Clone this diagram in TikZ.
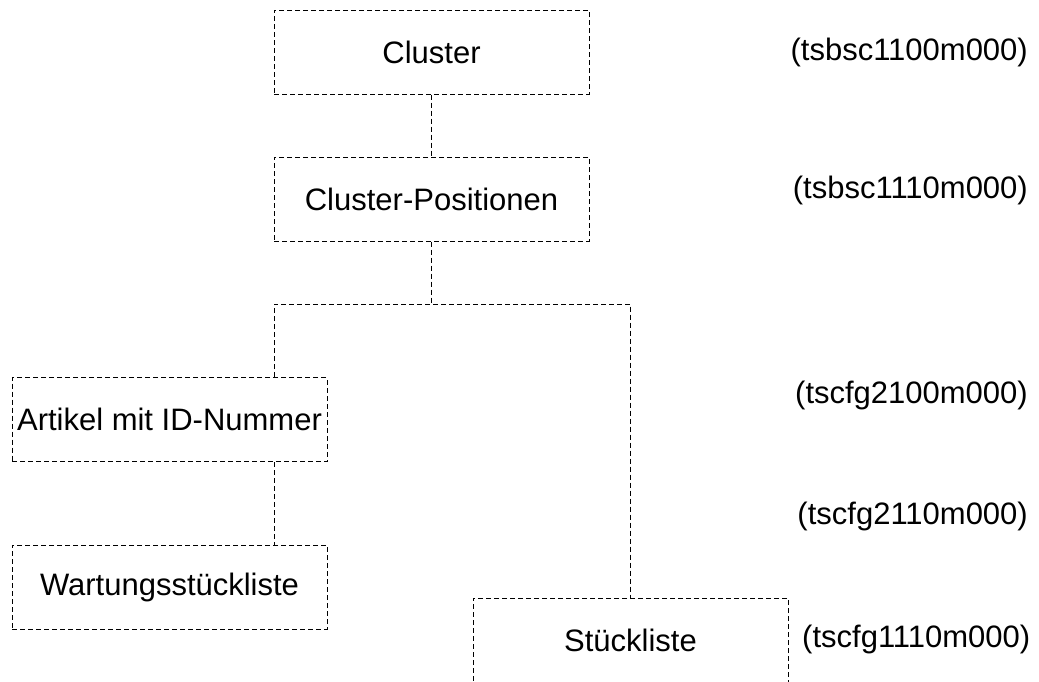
\documentclass[tikz,border=0pt]{standalone}
\usepackage{fontspec}
\setmainfont{Liberation Sans}
\usetikzlibrary{positioning}

\tikzset{
  box/.style={draw, dash pattern=on 5pt off 3pt, line width=1pt, minimum width=315pt, minimum height=84pt, inner sep=0pt},
  link/.style={draw, dash pattern=on 5pt off 3pt, line width=1pt},
  tab/.style={anchor=east, inner sep=0pt}
}

\begin{document}
\begin{tikzpicture}[x=1pt, y=-1pt, font=\fontsize{31}{37}\selectfont]

  \clip (0,0) rectangle (1039,681);

  \node[box] (cluster) at (431.5,52) {Cluster};
  \node[box] (clusterpos) at (431.5,199) {Cluster-Positionen};
  \node[box] (artikel) at (169.5,419.5) {Artikel mit ID-Nummer};
  \node[box] (wartung) at (169.5,587) {Wartungsst\"uckliste};
  \node[box] (stueck) at (630.5,640) {St\"uckliste};

  \coordinate (splitL) at (274,304);
  \coordinate (splitR) at (630.5,304);

  \draw[link] (cluster) -- (clusterpos);
  \draw[link] (clusterpos) -- (clusterpos |- splitL);
  \draw[link] (artikel.north -| splitL) -- (splitL) -- (splitR) -- (stueck);
  \draw[link] (artikel.south -| splitL) -- (wartung.north -| splitL);

  \node[tab] (tabcluster) at (1028,52) {(tsbsc1100m000)};
  \node[tab] (tabclusterpos) at (1028,190) {(tsbsc1110m000)};
  \node[tab] (tabartikel) at (1028,395) {(tscfg2100m000)};
  \node[tab] (tabwartung) at (1028,516) {(tscfg2110m000)};
  \node[tab, anchor=west] (tabstueck) at (802,639) {(tscfg1110m000)};

\end{tikzpicture}
\end{document}
